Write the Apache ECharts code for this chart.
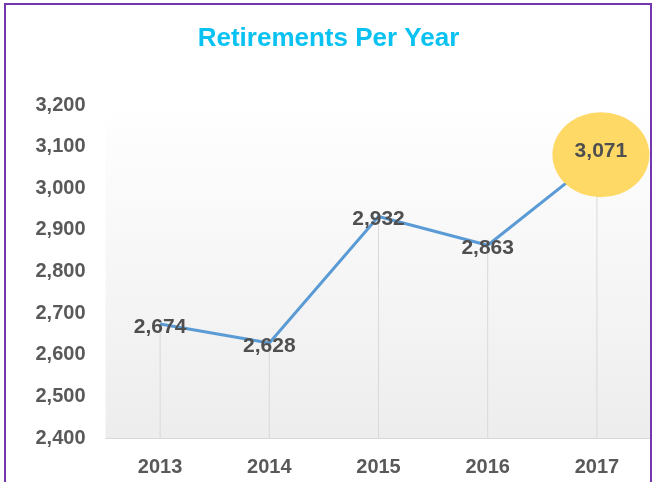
<!DOCTYPE html>
<html>
<head>
<meta charset="utf-8">
<script src="https://cdn.jsdelivr.net/npm/echarts@6/dist/echarts.min.js"></script>
<style>
html,body{margin:0;padding:0;background:#fff;}
#chart{width:657px;height:482px;}
</style>
</head>
<body>
<div id="chart"></div>
<script>
// 数据
var years = ['2013', '2014', '2015', '2016', '2017'];
var retirements = [2674, 2628, 2932, 2863, 3071];
var yTicks = [2400, 2500, 2600, 2700, 2800, 2900, 3000, 3100, 3200];

function fmt(v) {
  return String(v).replace(/\B(?=(\d{3})+(?!\d))/g, ',');
}

var lastIdx = retirements.length - 1;
var lineData = retirements.map(function (v, i) {
  if (i === lastIdx) {
    return {
      value: v,
      symbolSize: [97, 85],
      symbolOffset: [4, -4],
      itemStyle: { color: '#FFD966' },
      label: { offset: [0, -3] }
    };
  }
  return { value: v, symbolSize: 0 };
});

var mycharts = echarts.init(document.getElementById('chart'));
var options = {
  backgroundColor: '#fff',
  animation: false,
  title: {
    text: 'Retirements Per Year',
    left: 'center',
    top: 21,
    textStyle: {
      color: '#0AC2F2',
      fontSize: 26,
      fontWeight: 'bold',
      fontFamily: 'Liberation Sans'
    }
  },
  graphic: [{
    type: 'rect',
    shape: { x: 5, y: 4, width: 646, height: 500 },
    style: { fill: 'none', stroke: '#7436AC', lineWidth: 2 },
    z: 100
  }],
  grid: {
    left: 105.5,
    right: 5.5,
    top: 105,
    bottom: 44,
    containLabel: false,
    show: true,
    borderWidth: 0,
    backgroundColor: {
      type: 'linear', x: 0, y: 0, x2: 0, y2: 1,
      colorStops: [
        { offset: 0, color: '#ffffff' },
        { offset: 1, color: '#ededed' }
      ]
    }
  },
  xAxis: {
    type: 'category',
    data: years,
    boundaryGap: true,
    axisTick: { show: false },
    axisLine: { lineStyle: { color: '#d9d9d9', width: 1 } },
    axisLabel: {
      margin: 19,
      color: '#595959',
      fontSize: 20,
      fontWeight: 'bold',
      fontFamily: 'Liberation Sans'
    }
  },
  yAxis: {
    type: 'value',
    min: yTicks[0],
    max: yTicks[yTicks.length - 1],
    interval: 100,
    axisLine: { show: false },
    axisTick: { show: false },
    splitLine: { show: false },
    axisLabel: {
      margin: 20,
      color: '#595959',
      fontSize: 20,
      fontWeight: 'bold',
      fontFamily: 'Liberation Sans',
      formatter: function (v) { return fmt(v); }
    }
  },
  series: [
    {
      // 垂直线
      type: 'bar',
      data: retirements,
      barWidth: 1,
      silent: true,
      itemStyle: { color: '#d9d9d9' },
      z: 1
    },
    {
      name: 'Retirements',
      type: 'line',
      data: lineData,
      symbol: 'circle',
      showSymbol: true,
      color: '#5B9BD5',
      lineStyle: { color: '#5B9BD5', width: 3 },
      z: 3,
      label: {
        show: true,
        position: 'inside',
        offset: [0, 3],
        color: '#4f4f4f',
        fontSize: 21,
        fontWeight: 'bold',
        fontFamily: 'Liberation Sans',
        formatter: function (p) { return fmt(p.value); }
      }
    }
  ]
};
mycharts.setOption(options, true);
window.addEventListener('resize', () => mycharts.resize());
</script>
</body>
</html>
